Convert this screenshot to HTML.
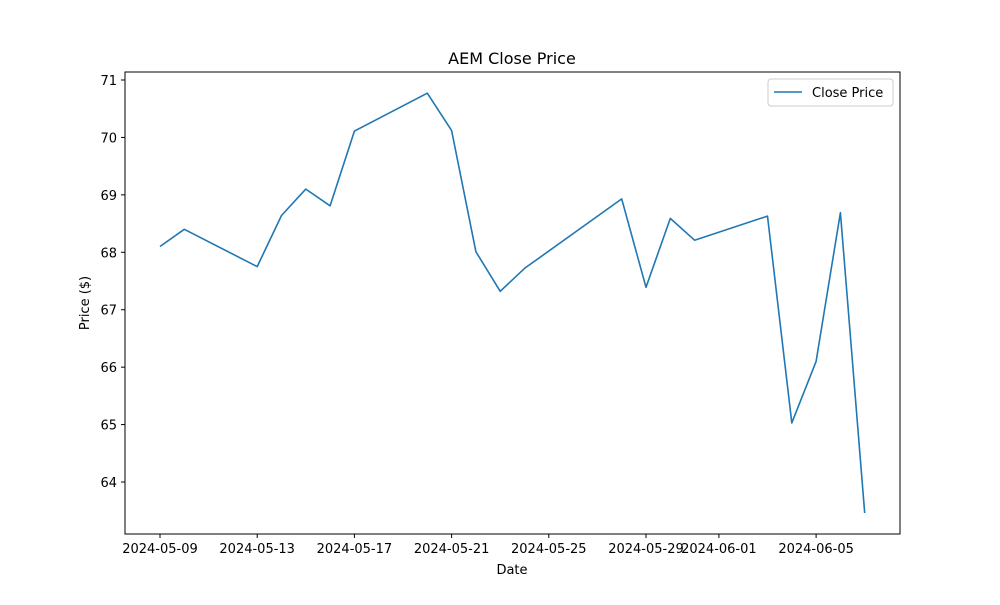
<!DOCTYPE html>
<html><head><meta charset="utf-8"><style>
body{margin:0;background:#fff;font-family:"Liberation Sans","DejaVu Sans",sans-serif}
</style></head><body>
<svg width="1000" height="600" xmlns="http://www.w3.org/2000/svg" style="font-family:'DejaVu Sans','Liberation Sans',sans-serif">
<rect width="1000" height="600" fill="#fff"/>
<g id="g"></g>
</svg>
<script>
const dates=["2024-05-09","2024-05-10","2024-05-13","2024-05-14","2024-05-15","2024-05-16","2024-05-17","2024-05-20","2024-05-21","2024-05-22","2024-05-23","2024-05-24","2024-05-28","2024-05-29","2024-05-30","2024-05-31","2024-06-03","2024-06-04","2024-06-05","2024-06-06","2024-06-07"];
const closes=[68.10,68.40,67.75,68.64,69.10,68.81,70.11,70.77,70.12,68.01,67.32,67.72,68.93,67.39,68.59,68.21,68.63,65.03,66.10,68.69,63.46];
const xTicks=["2024-05-09","2024-05-13","2024-05-17","2024-05-21","2024-05-25","2024-05-29","2024-06-01","2024-06-05"];
const yTicks=[64,65,66,67,68,69,70,71];
const NS="http://www.w3.org/2000/svg";
const g=document.getElementById('g');
const L=125,R=900,T=72,B=534;
const d0=Date.parse("2024-05-09");
const X=d=>160+(Date.parse(d)-d0)/864e5*24.3;
const Y=v=>80+(71-v)*57.43;
function el(t,a,txt){const e=document.createElementNS(NS,t);for(const k in a)e.setAttribute(k,a[k]);if(txt!=null)e.textContent=txt;g.appendChild(e);return e;}
const frame=el('rect',{x:L,y:T,width:R-L,height:B-T,fill:'none',stroke:'#000','stroke-width':1});


xTicks.forEach(t=>{const x=X(t);
const tk=el('line',{x1:x,x2:x,y1:B,y2:B+4,stroke:'#000'});


const lb=el('text',{x:x,y:B+19,'text-anchor':'middle','font-size':13},t);

});
yTicks.forEach(v=>{const y=Y(v);
const tk=el('line',{x1:L-4,x2:L,y1:y,y2:y,stroke:'#000'});


const lb=el('text',{x:L-8,y:y+5,'text-anchor':'end','font-size':13},v);

});
const pts=dates.map((d,i)=>X(d).toFixed(1)+','+Y(closes[i]).toFixed(1)).join(' ');
const line=el('polyline',{points:pts,fill:'none',stroke:'#1f77b4','stroke-width':1.6,'stroke-linejoin':'round'});


const title=el('text',{x:512,y:64,'text-anchor':'middle','font-size':16},'AEM Close Price');


const xt=el('text',{x:512,y:574,'text-anchor':'middle','font-size':13},'Date');


const yt=el('text',{x:89,y:303,'text-anchor':'middle','font-size':13,transform:'rotate(-90 89 303)'},'Price ($)');


const lg=el('rect',{x:768,y:79,width:125,height:27,fill:'#fff',stroke:'#ccc',rx:3});


const ll=el('line',{x1:774,x2:802,y1:92,y2:92,stroke:'#1f77b4','stroke-width':1.6});


const lt=el('text',{x:812,y:97,'font-size':13},'Close Price');


</script>
</body></html>
